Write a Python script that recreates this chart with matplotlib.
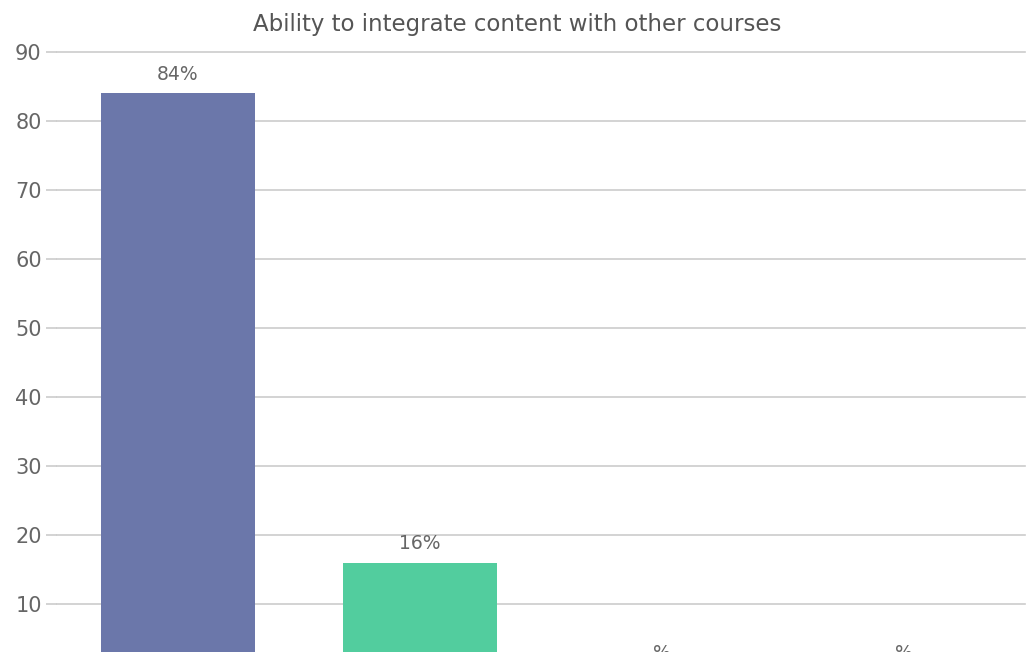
import numpy as np
import matplotlib
matplotlib.use("Agg")
import matplotlib.pyplot as plt

plt.rcParams["font.family"] = ["DejaVu Sans"]

# data
values = [84, 16, 0, 0]
value_labels = ["84%", "16%", "%", "%"]
bar_colors = ["#6b77aa", "#52cd9e", "#f5a65b", "#e86a6a"]
y_ticks = [10, 20, 30, 40, 50, 60, 70, 80, 90]
title = "Ability to integrate content with other courses"

W, H = 1034, 652
fig = plt.figure(figsize=(W / 100, H / 100), dpi=100)

# plot area: x 57..1025 px, y=90 at 52 px, y=0 at 673 px (below the crop)
left, right = 57, 1025
top, bottom = 52, 673
ax = fig.add_axes([left / W, (H - bottom) / H, (right - left) / W, (bottom - top) / H])

xs = np.arange(len(values))
ax.bar(xs, values, width=0.636, color=bar_colors, zorder=2)
for x, v, lab in zip(xs, values, value_labels):
    ax.annotate(lab, (x, v), xytext=(0, 7), textcoords="offset points",
                ha="center", va="bottom", fontsize=13.5, color="#666666")

ax.set_xlim(-0.5, len(values) - 0.5)
ax.set_ylim(0, 90)
ax.set_yticks(y_ticks)
ax.set_xticks([])
ax.tick_params(axis="y", length=8, color="#cccccc", width=1.2, labelsize=15,
               labelcolor="#666666", pad=3)
ax.grid(axis="y", color="#cccccc", lw=1.2, zorder=0)
for gl in ax.get_ygridlines():
    gl.set_clip_on(False)
for s in ax.spines.values():
    s.set_visible(False)

fig.text(0.5, (H - 24) / H, title, ha="center", va="center", fontsize=16.5, color="#555555")

fig.savefig("out.png", dpi=100)
